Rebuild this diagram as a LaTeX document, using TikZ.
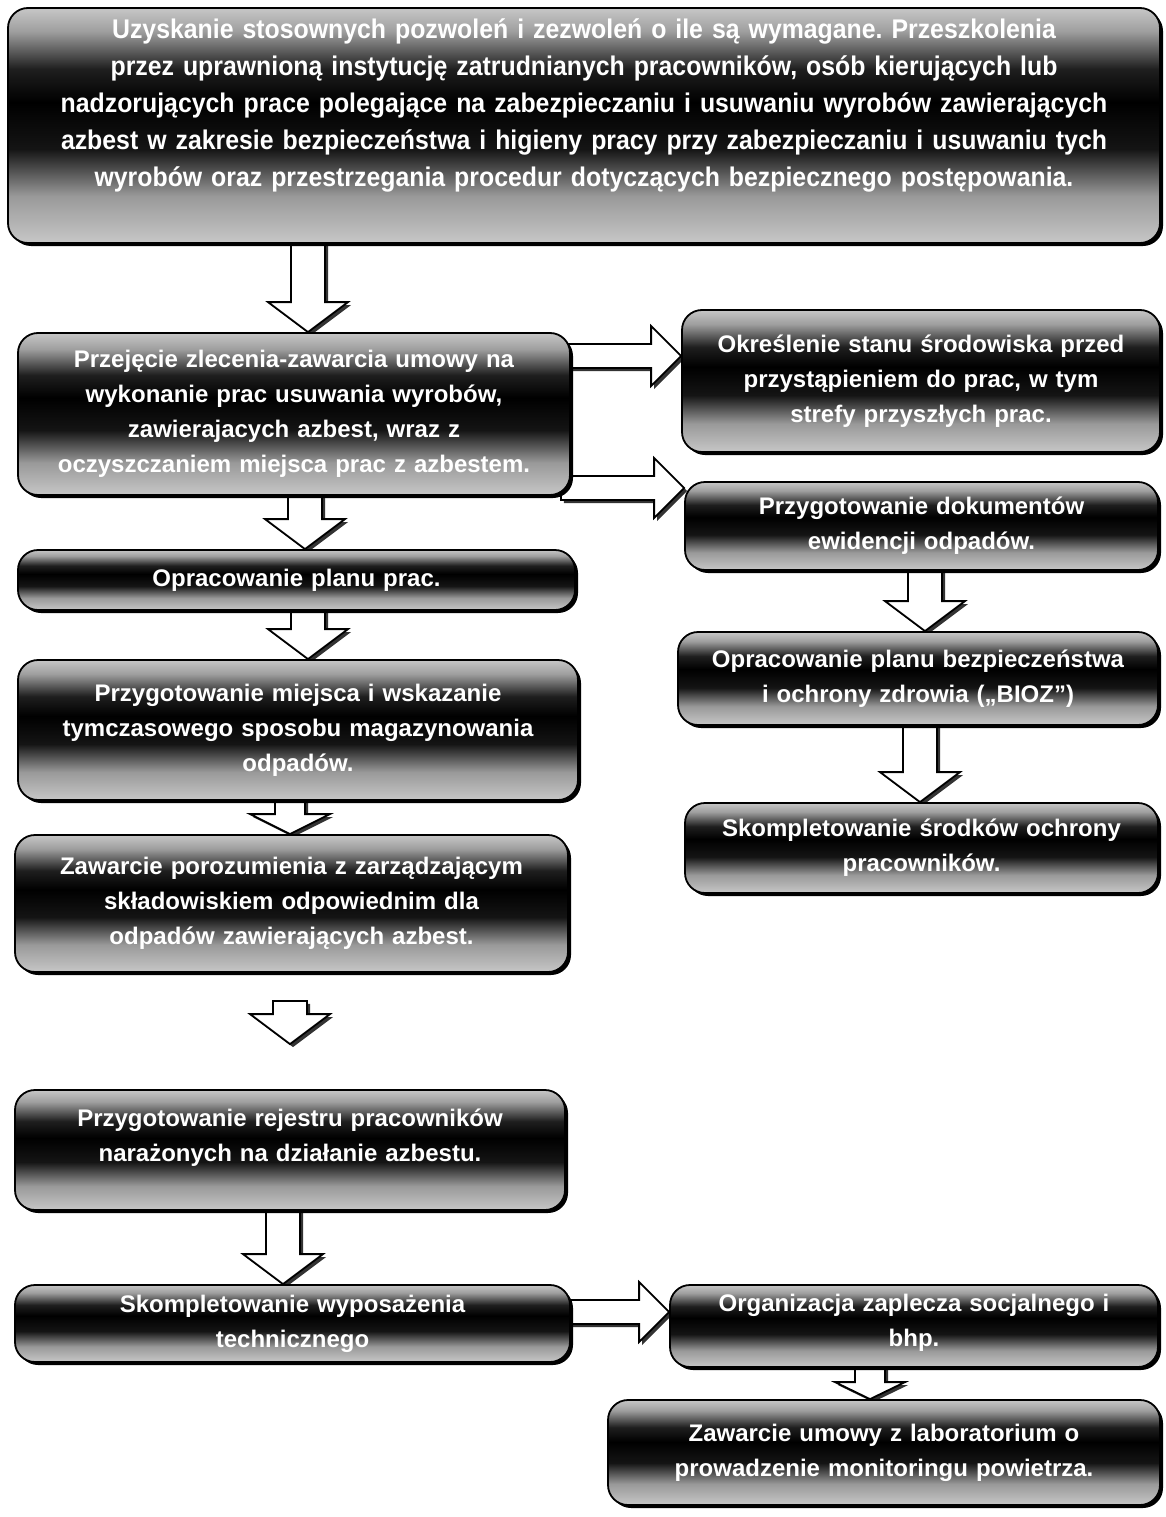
\documentclass[tikz,border=0pt]{standalone}
\usepackage{fontspec}
\setmainfont{Liberation Sans}
\newfontfamily\narrowsans[FakeStretch=0.92]{Liberation Sans}
\usetikzlibrary{calc,shadows,backgrounds}
\frenchspacing
\pgfdeclareverticalshading{band}{100bp}{color(0bp)=(black!22); color(25bp)=(black!22); color(35bp)=(black!40); color(45bp)=(black!92); color(55bp)=(black); color(62bp)=(black!88); color(70bp)=(black!38); color(75bp)=(black!22); color(100bp)=(black!22)}
\def\arsw{17pt}\def\arhw{40pt}\def\arhl{30pt}
\def\arsh{12pt}\def\arhh{30pt}\def\arhx{30pt}
\newcommand\blkdown[5]{%
  \draw[blkarrow] let \p1=(#1.south), \p2=(#2.north), \p3=(#3,0) in
    ({\x3-\arsw},{\y1+(#4pt)}) -- ({\x3-\arsw},{\y2+(#5pt)+\arhl}) -- ({\x3-\arhw},{\y2+(#5pt)+\arhl})
    -- ({\x3},{\y2+(#5pt)}) -- ({\x3+\arhw},{\y2+(#5pt)+\arhl}) -- ({\x3+\arsw},{\y2+(#5pt)+\arhl})
    -- ({\x3+\arsw},{\y1+(#4pt)}) -- cycle;}
\newcommand\blkright[4]{%
  \draw[blkarrow] let \p1=(#1.east), \p2=(#2.west), \p3=(0,#3) in
    ({\x1-(#4pt)},{\y3+\arsh}) -- ({\x2-\arhx},{\y3+\arsh}) -- ({\x2-\arhx},{\y3+\arhh})
    -- ({\x2},{\y3}) -- ({\x2-\arhx},{\y3-\arhh}) -- ({\x2-\arhx},{\y3-\arsh})
    -- ({\x1-(#4pt)},{\y3-\arsh}) -- cycle;}
\tikzset{
  box/.style={draw=black, line width=1.8pt, rounded corners=20pt, shade, shading=band,
    text=white, font=\bfseries\fontsize{24}{35}\selectfont, align=center,
    inner xsep=6pt, inner ysep=0pt,
    drop shadow={shadow xshift=3pt, shadow yshift=-3pt, opacity=1, fill=black}},
  blkarrow/.style={draw=black, line width=1.8pt, fill=white, line join=miter,
    drop shadow={shadow xshift=3pt, shadow yshift=-3pt, opacity=0.8, fill=black}}
}
\begin{document}
\begin{tikzpicture}[x=1pt,y=-1pt]
\useasboundingbox (0,0) rectangle (1165,1517);
% left column
\node[box, text width=1140pt, minimum height=235pt, font=\narrowsans\bfseries\fontsize{27}{37}\selectfont] (n1) at (584,125.5)
  {Uzyskanie stosownych pozwoleń i zezwoleń o ile są wymagane. Przeszkolenia\\
   przez uprawnioną instytucję zatrudnianych pracowników, osób kierujących lub\\
   nadzorujących prace polegające na zabezpieczaniu i usuwaniu wyrobów zawierających\\
   azbest w zakresie bezpieczeństwa i higieny pracy przy zabezpieczaniu i usuwaniu tych\\
   wyrobów oraz przestrzegania procedur dotyczących bezpiecznego postępowania.\par\kern40pt};
\node[box, text width=540pt, minimum height=162pt] (n2) at (294,414)
  {Przejęcie zlecenia-zawarcia umowy na\\ wykonanie prac usuwania wyrobów,\\ zawierajacych azbest, wraz z\\ oczyszczaniem miejsca prac z azbestem.};
\node[box, text width=545pt, minimum height=60pt] (nE) at (296.5,580)
  {Opracowanie planu prac.};
\node[box, text width=548pt, minimum height=140pt] (nF) at (298,730)
  {Przygotowanie miejsca i wskazanie\\ tymczasowego sposobu magazynowania\\ odpadów.};
\node[box, text width=541pt, minimum height=137pt] (nG) at (291.5,903.5)
  {Zawarcie porozumienia z zarządzającym\\ składowiskiem odpowiednim dla\\ odpadów zawierających azbest.};
\node[box, text width=538pt, minimum height=120pt] (nH) at (290,1150)
  {Przygotowanie rejestru pracowników\\ narażonych na działanie azbestu.\par\kern24pt};
\node[box, text width=543pt, minimum height=77pt] (nI) at (292.5,1323.5)
  {Skompletowanie wyposażenia\\ technicznego};
% right column
\node[box, text width=466pt, minimum height=142pt] (nA) at (921,381)
  {Określenie stanu środowiska przed\\ przystąpieniem do prac, w tym\\ strefy przyszłych prac.};
\node[box, text width=461pt, minimum height=88pt] (nB) at (921.5,526)
  {Przygotowanie dokumentów\\ ewidencji odpadów.};
\node[box, text width=468pt, minimum height=93pt] (nC) at (918,678.5)
  {Opracowanie planu bezpieczeństwa\\ i ochrony zdrowia („BIOZ”)};
\node[box, text width=461pt, minimum height=90pt] (nD) at (921.5,848)
  {Skompletowanie środków ochrony\\ pracowników.};
\node[box, text width=476pt, minimum height=82pt] (nJ) at (914,1326)
  {Organizacja zaplecza socjalnego i\\ bhp.\par\kern6pt};
\node[box, text width=540pt, minimum height=105pt] (nK) at (884,1452.5)
  {Zawarcie umowy z laboratorium o\\ prowadzenie monitoringu powietrza.};
\begin{scope}[on background layer]
\fill[white] (0,0) rectangle (1165,1517);
\blkdown{n1}{n2}{308}{8}{0}
\blkdown{n2}{nE}{305}{8}{0}
\blkdown{nE}{nF}{308}{8}{0}
{\def\arhl{20pt}\def\arsw{15pt}\blkdown{nF}{nG}{290}{8}{0}}
\blkdown{nG}{nH}{290}{-28}{45}
\blkdown{nH}{nI}{283}{8}{0}
\blkdown{nB}{nC}{925}{8}{0}
\blkdown{nC}{nD}{920}{8}{0}
{\def\arhl{17pt}\def\arsw{15pt}\def\arhw{35pt}\blkdown{nJ}{nK}{870}{8}{0}}
\blkright{n2}{nA}{356}{10}
\blkright{n2}{nB}{488}{10}
\blkright{nI}{nJ}{1312}{10}
\end{scope}
\end{tikzpicture}
\end{document}
